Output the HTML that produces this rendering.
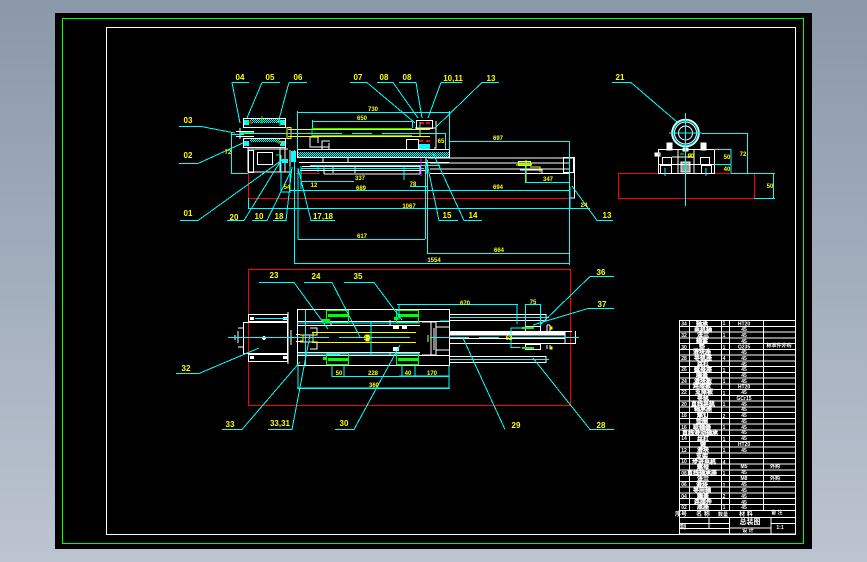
<!DOCTYPE html>
<html><head><meta charset="utf-8"><style>
html,body{margin:0;padding:0;width:867px;height:562px;overflow:hidden;background:linear-gradient(#8a98aa,#bcc4d0)}
svg{display:block;position:absolute;left:0;top:0}
text{font-family:"Liberation Sans","Noto Sans CJK SC",sans-serif}
</style></head><body>
<svg width="867" height="562" viewBox="0 0 867 562" fill="none" shape-rendering="crispEdges">
<defs><pattern id="h" width="2" height="2" patternUnits="userSpaceOnUse"><rect width="2" height="2" fill="#000"/><path d="M0 0h1v1H0zM1 1h1v1H1z" fill="#0ff"/></pattern></defs>
<rect x="55" y="13" width="757" height="536" fill="#000"/>
<rect x="62.5" y="18.5" width="741" height="525" stroke="#0f0"/>
<rect x="106.5" y="27.5" width="689" height="507" stroke="#fff"/>

<!-- red -->
<g stroke="#f00">
<path d="M248.5 173V198.5H570.5"/>
<path d="M248.5 269.5H570.5V405.5H248.5Z"/>
<rect x="618.5" y="173.5" width="136" height="25"/>
<path d="M296 173.5H320"/>
</g>

<!-- hatch and filled -->
<rect x="297" y="152" width="152" height="6" fill="url(#h)"/>
<rect x="250" y="118" width="30" height="5" fill="url(#h)"/>
<rect x="250" y="138" width="30" height="4" fill="url(#h)"/>
<rect x="291" y="151" width="5" height="11" fill="#0ff"/>
<rect x="418" y="144" width="12" height="6" fill="#0ff"/>
<rect x="244" y="120" width="5" height="5" fill="#0ff"/><rect x="280" y="120" width="5" height="5" fill="#0ff"/>
<rect x="244" y="141" width="5" height="5" fill="#0ff"/><rect x="280" y="141" width="5" height="5" fill="#0ff"/>

<!-- white front view -->
<g stroke="#fff">
<rect x="243.5" y="118.5" width="42" height="9"/>
<rect x="243.5" y="138.5" width="42" height="9"/>
<path d="M236 131.5H254M236 136.5H254M240 128V139M248 147V172M248 172H292M248.5 149H288M285 147V172M280 148V172"/>
<rect x="257.5" y="152.5" width="15" height="12"/>
<rect x="248.5" y="150.5" width="5" height="22"/>
<rect x="297.5" y="149.5" width="152" height="8"/>
<path d="M297 157.5H449M290 150V170M299 162.5H449M302 166.5H420M300 170.5H425M323 158V162M348 158V162"/>
<path d="M324 174H420M324 167.5V174M420 165V174M333 166V173M355 166V173"/>
<path d="M310 137V147H329M310 137H318V143M329 143V149M322 149V141H330"/>
<rect x="406.5" y="139.5" width="12" height="10"/>
<path d="M415 128H436V148H434M436 128V121"/>
<rect x="416.5" y="120.5" width="16" height="8"/>
<path d="M428 158H575M430 163H570M430 169H570M430 173.5H570M426 158V174"/>
<rect x="563.5" y="157.5" width="10" height="15"/>
<path d="M573 157.5H574.5V198H570"/>
<path d="M520 170H542V173"/>
</g>
<g fill="#f00"><rect x="420" y="122" width="4" height="2"/><rect x="426" y="122" width="4" height="2"/><rect x="419" y="140" width="4" height="2"/><rect x="426" y="140" width="4" height="2"/><rect x="250" y="121" width="2" height="3"/><rect x="278" y="142" width="3" height="2"/></g>
<path d="M421 158V176" stroke="#f0f"/>

<!-- yellow/green shafts -->
<g stroke="#ff0">
<path d="M288 129.5H430M288 136.5H430"/>
<rect x="287" y="127.5" width="4" height="11"/>
<path d="M420 122V137"/>
<path d="M526 160V182M516 165H532M530 167H540V172"/>
<rect x="518.5" y="161.5" width="12" height="4"/>
</g>
<path d="M312 128.5H412M312 135.5H412M312 128V136M254 132.5H240" stroke="#0f0"/>
<path d="M262 116V124M246 122H250M280 120V126M276 142H282M276 155H280M519 164H532" stroke="#0f0"/>

<!-- cyan dims front -->
<g stroke="#0ff">
<path d="M297.5 111V150M449.5 111V150M297 112.5H449"/>
<path d="M312.5 120V128M412.5 120V128M312 121.5H412"/>
<path d="M231.5 134V173.5M231 134.5H244M231 173.5H248"/>
<path d="M240 133.5H342M352 133.5H372M382 133.5H430"/>
<path d="M430 133.5H445.5V149M418 133.5H446"/>
<path d="M449 141.5H569.5V265M449 141H449"/>
<path d="M294.5 150V264M295 263.5H569"/>
<path d="M290 190.5H570M290 166V190M301 189V166M298 169V239.5M298 239.5H425M425.5 166V239"/>
<path d="M427.5 160V253.5M427 253.5H569"/>
<path d="M248.5 198V208.5H590"/>
<path d="M301 181.5H354M410 186.5H428"/>
<path d="M301 168.5H424M310 165.5H440M318 165V172"/>
<path d="M525.5 166V182.5M525 182.5H569"/>
<path d="M570 187V208"/>
<path d="M420 122V129M404 165V180"/>
<path d="M231.5 133V172"/>
<path d="M281 155V192H291" />
</g>
<rect x="282" y="159" width="6" height="4" fill="#0ff"/>

<!-- leaders front -->
<g stroke="#0ff">
<path d="M232 82.5H249M232 82.5L240 123"/>
<path d="M262 82.5H280M262 82.5L247 118"/>
<path d="M289 82.5H307M289 82.5L278 123"/>
<path d="M350 82.5H367L415 123"/>
<path d="M377 82.5H393L418 118"/>
<path d="M399 82.5H416L422 118"/>
<path d="M441 82.5H462M441 82.5L428 118"/>
<path d="M482 82.5H499M482 82.5L435 128"/>
<path d="M179 126.5H201L235 133"/>
<path d="M179 163.5H198L243 143"/>
<path d="M180 220.5H198L282 160"/>
<path d="M227 220.5H244L280 162"/>
<path d="M252 220.5H267L290 173"/>
<path d="M273 220.5H286L292 167"/>
<path d="M335 220.5H311L298 168"/>
<path d="M458 220.5H439L427 163"/>
<path d="M482 220.5H464L433 153"/>
<path d="M613 220.5H597L572 186"/>
<path d="M612 82.5H631L677 122"/>
</g>

<!-- right view -->
<g stroke="#fff">
<circle cx="685.5" cy="133" r="13.5" shape-rendering="auto" stroke-width="1.6"/>
<circle cx="685.5" cy="133" r="11" shape-rendering="auto"/>
<circle cx="685.5" cy="133" r="7" shape-rendering="auto"/>
<rect x="658.5" y="149.5" width="56" height="24"/>
<path d="M678 149V173M694 149V173M658 164.5H714M672 157H694M678 157V164"/>
<rect x="662.5" y="157.5" width="9" height="7"/>
<rect x="700.5" y="157.5" width="9" height="7"/>
<rect x="660.5" y="165.5" width="11" height="8"/>
<rect x="701.5" y="165.5" width="10" height="8"/>
<rect x="681" y="162" width="9" height="10" fill="#fff" fill-opacity=".6"/>
<rect x="667" y="143" width="5" height="7" fill="#fff"/><rect x="701" y="143" width="5" height="7" fill="#fff"/>
<rect x="655" y="153" width="5" height="3" fill="#fff"/><rect x="683" y="148" width="5" height="3" fill="#fff"/>
</g>
<g stroke="#0ff">
<circle cx="685.5" cy="133" r="12.5" shape-rendering="auto"/>
<path d="M685.5 113V206M669 133H702"/>
<path d="M702 133.5H747.5V173M714 149.5H731V173M714 164.5H731M731 173.5H775M754 198.5H775M773.5 174V198M665 168V176M706 168V176"/>
</g>
<path d="M680 154H684M690 154H694M683 166H688M658 154H660" stroke="#0f0"/>

<!-- lower view -->
<g stroke="#fff">
<rect x="243.5" y="322.5" width="44" height="31"/>
<rect x="248.5" y="314.5" width="39" height="7"/>
<rect x="248.5" y="354.5" width="39" height="7"/>
<path d="M288 312V364M291 330V345M296 334.5H300M296 341.5H300M238 331V343M235 335V340M243 328H238M243 347H238"/>
<rect x="297.5" y="309.5" width="152" height="56"/>
<path d="M297 321.5H450M297 355.5H450M297 325.5H420M297 352.5H420M331 321V325M331 352V356M390 320V325M390 352V356"/>
<path d="M310 328H317V335H300M310 349H317V342H300M422 322H436V355H422M431 322V356M434 328V350M436 327H449M436 350H449"/>
<path d="M449 314.5H546M449 320.5H546V314M449 356.5H546M449 362.5H546V356"/>
<path d="M449 331.5H572M449 335H565M449 338.5H565M449 343.5H575.5V331M565 331V344"/>
<rect x="450" y="332" width="115" height="2" fill="#fff"/>
<rect x="525.5" y="326.5" width="15" height="5"/>
<rect x="525.5" y="344.5" width="15" height="5"/>
<path d="M547 325V331M550 325V331M547 345V349M550 345V349M547 325H550"/>
</g>
<g fill="#fff"><rect x="250" y="317" width="4" height="3"/><rect x="283" y="317" width="4" height="3"/><rect x="250" y="356" width="4" height="3"/><rect x="283" y="356" width="4" height="3"/><circle cx="264" cy="338" r="2"/><rect x="393" y="325" width="6" height="4"/><rect x="393" y="347" width="6" height="4"/><rect x="402" y="326" width="5" height="3"/></g>
<g stroke="#0f0">
<rect x="326.5" y="310.5" width="22" height="12"/>
<rect x="326.5" y="353.5" width="22" height="11"/>
<rect x="396.5" y="310.5" width="22" height="12"/>
<rect x="396.5" y="353.5" width="22" height="11"/>
</g>
<g fill="#0f0"><rect x="328" y="314" width="20" height="3"/><rect x="328" y="358" width="20" height="3"/><rect x="398" y="314" width="20" height="3"/><rect x="398" y="358" width="20" height="3"/><rect x="322" y="319" width="8" height="3"/><rect x="323" y="357" width="4" height="3"/><rect x="394" y="317" width="4" height="3"/><rect x="522" y="327" width="12" height="2"/><rect x="522" y="347" width="12" height="2"/></g>
<g stroke="#ff0">
<path d="M312 332.5H416M312 342.5H416M313 332V343M428 335V342M300 335H303V341H300"/>
<rect x="366" y="335" width="3" height="6" fill="#ff0"/>
<rect x="550" y="327" width="2" height="2" fill="#ff0"/><rect x="550" y="347" width="2" height="2" fill="#ff0"/>
</g>
<g stroke="#0ff">
<path d="M228 337.5H329M339 337.5H410M430 337.5H469M479 337.5H499M510 337.5H579"/>
<path d="M298 365V388.5H449V365M297 388H450"/>
<path d="M332 365V376.5H449M344 365V376M402 365V376M415 365V376M399 376H449"/>
<path d="M305.5 310V365M371 321V356M327 355H340"/>
<path d="M397 304.5H518M399 304V320M517 305V324"/>
<path d="M525.5 305V326M540.5 305V326M525 304.5H541"/>
<path d="M511 327.5V347.5H520M511 328H525M520 347V348"/>
<path d="M440 321H449M297 354H420M297 323H420M255 318.5H288M450 317.5H549M450 359.5H549"/>
</g>

<!-- leaders lower -->
<g stroke="#0ff">
<path d="M259 282.5H294L328 329"/>
<path d="M304 282.5H332L360 337"/>
<path d="M344 282.5H374L402 320"/>
<path d="M176 373.5H199L259 348"/>
<path d="M222 429.5H242L300 362"/>
<path d="M268 429.5H292L310 335"/>
<path d="M335 429.5H354L400 345"/>
<path d="M505 429.5L463 338"/>
<path d="M614 429.5H590L533 358"/>
<path d="M614 276.5H590L541 324"/>
<path d="M614 308.5H588L533 325"/>
</g>

<!-- table -->
<g stroke="#fff">
<rect x="679.5" y="320.5" width="116" height="213.5"/>
<path d="M689.5 320V510M721.5 320V510M729.5 320V510M763.5 320V510"/>
<path d="M679 326.5H795M679 332H795M679 338H795M679 343.5H795M679 349.5H795M679 355H795M679 361H795M679 366.5H795M679 372.5H795M679 378H795M679 384H795M679 389.5H795M679 395.5H795M679 401H795M679 407H795M679 412.5H795M679 418.5H795M679 424H795M679 430H795M679 435.5H795M679 441.5H795M679 447H795M679 453H795M679 458.5H795M679 464H795M679 470H795M679 475.5H795M679 481.5H795M679 487H795M679 493H795M679 498.5H795M679 504.5H795M679 510.5H795"/>
<path d="M679 517.5H795M679 523.5H729M709 517V528M679 528.5H729M729.5 517V534M771 517V534M771 523.5H795M729 528H771"/>
</g>
<g fill="#fff" font-size="6" font-weight="700" text-anchor="middle" shape-rendering="auto">
<g stroke="#fff" stroke-width=".3">
<text x="702" y="326">轴承</text><text x="703" y="332">电机轴</text><text x="703" y="337">法兰</text><text x="702" y="343">轴套</text><text x="702" y="349">垫</text><text x="702" y="354">滑块座</text><text x="703" y="360">导轨座</text><text x="703" y="366">丝杠</text><text x="703" y="372">螺母座</text><text x="702" y="377">端盖</text><text x="703" y="383">滑块板</text><text x="702" y="388">连接板</text><text x="704" y="394">支撑板</text><text x="703" y="400">导轨</text><text x="703" y="406">直线导轨</text><text x="703" y="411">轴承座</text><text x="703" y="417">螺钉</text><text x="702" y="423">垫圈</text><text x="702" y="429">联轴器</text><text x="700" y="435">直线滑动轴承</text><text x="703" y="441">丝杠</text><text x="703" y="446">键</text><text x="703" y="452">滑块</text><text x="702" y="458">支架</text><text x="704" y="464">步进电机</text><text x="703" y="469">螺母</text><text x="702" y="475">直线轴承座</text><text x="703" y="481">法兰</text><text x="702" y="487">滑块</text><text x="702" y="492">导向轴</text><text x="703" y="498">端盖</text><text x="703" y="504">连接件</text><text x="703" y="509">底座</text>
</g>
<g font-size="5">
<text x="684" y="325.5">34</text><text x="684" y="337">32</text><text x="684" y="349">30</text><text x="684" y="360">28</text><text x="684" y="371">26</text><text x="684" y="383">24</text><text x="684" y="394">22</text><text x="684" y="406">20</text><text x="684" y="417">18</text><text x="684" y="429">16</text><text x="684" y="440">14</text><text x="684" y="452">12</text><text x="684" y="463">10</text><text x="684" y="475">08</text><text x="684" y="486">06</text><text x="684" y="498">04</text><text x="684" y="509">02</text>
</g>
<g font-size="5">
<text x="744" y="325.5">HT20</text><text x="744" y="331">45</text><text x="744" y="337">45</text><text x="744" y="343">45</text><text x="744" y="348.5">Q235</text><text x="744" y="354">45</text><text x="744" y="360">45</text><text x="744" y="366">45</text><text x="744" y="371">45</text><text x="744" y="377">45</text><text x="744" y="383">45</text><text x="744" y="388.5">HT20</text><text x="744" y="394">45</text><text x="744" y="400">GCr15</text><text x="744" y="406">45</text><text x="744" y="411">45</text><text x="744" y="417">45</text><text x="744" y="423">45</text><text x="744" y="429">45</text><text x="744" y="434">45</text><text x="744" y="440">45</text><text x="744" y="446">HT20</text><text x="744" y="452">45</text><text x="744" y="468">M5</text><text x="744" y="474">45</text><text x="744" y="480">M8</text><text x="744" y="486">45</text><text x="744" y="492">45</text><text x="744" y="498">45</text><text x="744" y="504">45</text><text x="744" y="509">45</text>
<text x="779" y="347">标准件外购</text><text x="775" y="468">外购</text><text x="775" y="480">外购</text>
</g>
<text x="681" y="516" font-size="6">序号</text><text x="703" y="516">名 称</text><text x="723" y="516" font-size="5">数量</text><text x="746" y="516">材 料</text><text x="777" y="514" font-size="5">备 注</text>
<text x="750" y="524" font-size="7">总装图</text><text x="748" y="532" font-size="5">设 计</text><text x="780" y="529" font-size="5">1:1</text><text x="683" y="529" font-size="6">制</text>
</g>
<g fill="#fff" font-size="5" font-weight="700" text-anchor="middle" shape-rendering="auto">
<text x="724" y="325">1</text><text x="724" y="337">1</text><text x="724" y="349">1</text><text x="724" y="360">4</text><text x="724" y="372">1</text><text x="724" y="383">1</text><text x="724" y="395">1</text><text x="724" y="406">1</text><text x="724" y="418">2</text><text x="724" y="429">1</text><text x="724" y="441">1</text><text x="724" y="452">1</text><text x="724" y="464">4</text><text x="724" y="475">1</text><text x="724" y="487">1</text><text x="724" y="498">2</text><text x="724" y="509">1</text>
</g>

<!-- labels -->
<g fill="#ff0" font-size="8" font-weight="700" text-anchor="middle" shape-rendering="auto">
<text x="240" y="80">04</text><text x="270" y="80">05</text><text x="298" y="80">06</text><text x="358" y="80">07</text><text x="384" y="80">08</text><text x="407" y="80">08</text><text x="453" y="81">10,11</text><text x="491" y="81">13</text>
<text x="188" y="123">03</text><text x="188" y="158">02</text><text x="188" y="216">01</text><text x="234" y="220">20</text><text x="259" y="219">10</text><text x="279" y="219">18</text><text x="323" y="219">17,18</text><text x="447" y="218">15</text><text x="473" y="218">14</text><text x="607" y="218">13</text><text x="620" y="80">21</text>
<text x="274" y="278">23</text><text x="316" y="279">24</text><text x="358" y="279">35</text><text x="601" y="275">36</text><text x="602" y="307">37</text>
<text x="186" y="371">32</text><text x="230" y="427">33</text><text x="280" y="426">33,31</text><text x="344" y="426">30</text><text x="516" y="428">29</text><text x="601" y="428">28</text>
</g>
<g fill="#ff0" font-size="6" font-weight="700" text-anchor="middle" shape-rendering="auto">
<text x="373" y="111">730</text><text x="362" y="120">650</text><text x="498" y="140">697</text><text x="360" y="180">337</text><text x="361" y="190">689</text><text x="409" y="208">1067</text><text x="362" y="238">617</text><text x="434" y="262">1554</text><text x="499" y="252">664</text><text x="498" y="189">694</text><text x="548" y="181">347</text><text x="314" y="187">12</text><text x="413" y="186">78</text><text x="287" y="189">54</text><text x="228" y="154">72</text><text x="584" y="207">24</text><text x="691" y="158">90</text><text x="727" y="159">50</text><text x="727" y="171">40</text><text x="743" y="156">72</text><text x="770" y="188">50</text><text x="441" y="143">65</text>
<text x="465" y="305">670</text><text x="533" y="304">75</text><text x="339" y="375">50</text><text x="373" y="375">228</text><text x="408" y="375">40</text><text x="432" y="375">170</text><text x="374" y="387">360</text><text x="509" y="340">62</text><text x="367" y="340">50</text>
</g>
</svg>
</body></html>
